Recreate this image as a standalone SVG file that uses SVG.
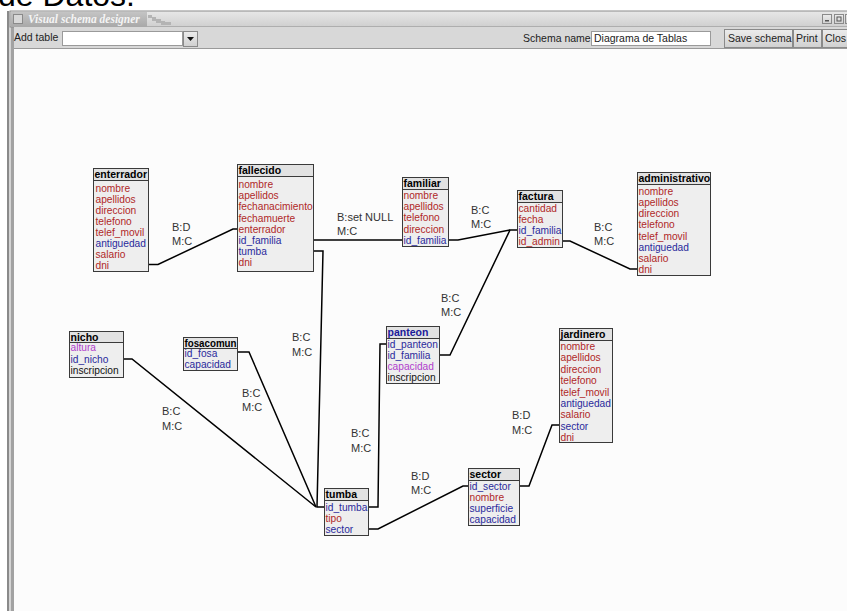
<svg xmlns="http://www.w3.org/2000/svg" width="847" height="611" viewBox="0 0 847 611">
<defs>
<linearGradient id="tbar" x1="0" y1="0" x2="0" y2="1"><stop offset="0" stop-color="#e8e8e8"/><stop offset="1" stop-color="#cfcfcf"/></linearGradient>
<linearGradient id="ttab" x1="0" y1="0" x2="0" y2="1"><stop offset="0" stop-color="#c4c4c4"/><stop offset="1" stop-color="#a8a8a8"/></linearGradient>
<linearGradient id="btn" x1="0" y1="0" x2="0" y2="1"><stop offset="0" stop-color="#ececec"/><stop offset="1" stop-color="#d0d0d0"/></linearGradient>
</defs>
<style>
.ui{font-family:"Liberation Sans",Arial,sans-serif;font-size:10.5px;fill:#222}
.tb rect.body{fill:#eeeeee;stroke:#3a3a3a;stroke-width:1}
.tb rect.hd{fill:#e2e2e2;stroke:#3a3a3a;stroke-width:1}
.tb text{font-family:"Liberation Sans",Arial,sans-serif;font-size:10.2px}
.tb text.h{font-weight:bold;font-size:10.5px;fill:#000}
.r{fill:#b02828}
.b{fill:#2a2a9c}
.p{fill:#b040cc}
.k{fill:#111}
.conn polyline{fill:none;stroke:#000;stroke-width:1.5}
.lbl{font-family:"Liberation Sans",Arial,sans-serif;font-size:11px;fill:#333}
</style>
<rect width="847" height="611" fill="#ffffff"/>
<text x="-2" y="6" font-family="Liberation Sans,Arial,sans-serif" font-size="32" fill="#000">de Datos.</text>
<!-- window frame -->
<g id="window">
<rect x="7" y="11" width="845" height="605" fill="#c8c8c8"/>
<rect x="7" y="11" width="2" height="600" fill="#8a8a8a"/>
<rect x="9" y="11" width="2" height="600" fill="#d4d4d4"/>
<rect x="11" y="11" width="3" height="600" fill="#a2a2a2"/>
<rect x="10" y="11" width="840" height="16" fill="url(#tbar)" stroke="#8c8c8c" stroke-width="1"/>
<rect x="11" y="12" width="136" height="15" fill="url(#ttab)"/>
<rect x="13.5" y="14.5" width="9" height="9" fill="#d8d8d8" stroke="#8a8a8a"/>
<text x="28" y="23" font-family="Liberation Serif,Times New Roman,serif" font-style="italic" font-weight="bold" font-size="11.5" fill="#f4f4f4">Visual schema designer</text>
<g fill="#b4b4b4"><rect x="148" y="15" width="4" height="3"/><rect x="152" y="17" width="4" height="4"/><rect x="156" y="19" width="5" height="4"/><rect x="161" y="21" width="4" height="4"/><rect x="165" y="22" width="6" height="3"/></g>
<rect x="822.5" y="14.5" width="9" height="9" fill="url(#btn)" stroke="#8a8a8a"/>
<rect x="825" y="20" width="4" height="1.5" fill="#555"/>
<rect x="834.5" y="14.5" width="9" height="9" fill="url(#btn)" stroke="#8a8a8a"/>
<rect x="837" y="17" width="4" height="4" fill="none" stroke="#555" stroke-width="1"/>
<rect x="845.5" y="14.5" width="9" height="9" fill="url(#btn)" stroke="#8a8a8a"/>
<rect x="14" y="27" width="840" height="21" fill="#d8d8d8"/>
<line x1="14" y1="48.5" x2="847" y2="48.5" stroke="#9a9a9a"/>
<text class="ui" x="14" y="41">Add table</text>
<rect x="62.5" y="31.5" width="120" height="14" fill="#ffffff" stroke="#9a9a9a"/>
<rect x="183.5" y="31.5" width="14" height="15" fill="url(#btn)" stroke="#8a8a8a"/>
<path d="M187 37 L194 37 L190.5 41 Z" fill="#111"/>
<text class="ui" x="523" y="42">Schema name</text>
<rect x="591.5" y="31.5" width="119" height="14" fill="#ffffff" stroke="#9a9a9a"/>
<text class="ui" x="594" y="42">Diagrama de Tablas</text>
<rect x="724.5" y="29.5" width="68" height="18" fill="url(#btn)" stroke="#8a8a8a"/>
<text class="ui" x="728" y="42">Save schema</text>
<rect x="793.5" y="29.5" width="28" height="18" fill="url(#btn)" stroke="#8a8a8a"/>
<text class="ui" x="796" y="42">Print</text>
<rect x="822.5" y="29.5" width="30" height="18" fill="url(#btn)" stroke="#8a8a8a"/>
<text class="ui" x="825" y="42">Clos</text>
<rect x="14" y="49" width="833" height="562" fill="#fcfcfc"/>
</g>
<!-- connectors -->
<g id="connectors" class="conn">
<polyline points="148,264.5 158,264.5 233,229 237,229"/>
<polyline points="313,240 402,240"/>
<polyline points="313,251 323,251 317,507 324,507"/>
<polyline points="123,359 132,359 316,507"/>
<polyline points="237,352 249,352 316,507"/>
<polyline points="368,507 378,507 380,344 386,344"/>
<polyline points="368,529 378,529 463,486 468,486"/>
<polyline points="519,486 529,486 552,425 559,425"/>
<polyline points="439,355 450,355 510,230 517,230"/>
<polyline points="448,240 458,240 510,230"/>
<polyline points="562,241 570,241 630,269 637,269"/>
</g>
<g id="labels">
<text class="lbl" x="172" y="231">B:D</text><text class="lbl" x="172" y="245">M:C</text>
<text class="lbl" x="337" y="221">B:set NULL</text><text class="lbl" x="337" y="235">M:C</text>
<text class="lbl" x="471" y="214">B:C</text><text class="lbl" x="471" y="228">M:C</text>
<text class="lbl" x="594" y="231">B:C</text><text class="lbl" x="594" y="245">M:C</text>
<text class="lbl" x="292" y="341">B:C</text><text class="lbl" x="292" y="356">M:C</text>
<text class="lbl" x="441" y="302">B:C</text><text class="lbl" x="441" y="316">M:C</text>
<text class="lbl" x="162" y="415">B:C</text><text class="lbl" x="162" y="430">M:C</text>
<text class="lbl" x="242" y="397">B:C</text><text class="lbl" x="242" y="411">M:C</text>
<text class="lbl" x="351" y="437">B:C</text><text class="lbl" x="351" y="452">M:C</text>
<text class="lbl" x="411" y="480">B:D</text><text class="lbl" x="411" y="494">M:C</text>
<text class="lbl" x="512" y="419">B:D</text><text class="lbl" x="512" y="434">M:C</text>
</g>
<!-- tables -->
<g id="enterrador" class="tb" transform="translate(93.5,168.5)">
<rect class="body" width="55" height="103"/><rect class="hd" width="55" height="12"/>
<text class="h" x="1" y="9.5">enterrador</text>
<text class="r" x="2" y="23">nombre</text><text class="r" x="2" y="34">apellidos</text><text class="r" x="2" y="45">direccion</text><text class="r" x="2" y="56">telefono</text><text class="r" x="2" y="67">telef_movil</text><text class="b" x="2" y="78">antiguedad</text><text class="r" x="2" y="89">salario</text><text class="r" x="2" y="100">dni</text>
</g>
<g id="fallecido" class="tb" transform="translate(237.5,164.5)">
<rect class="body" width="76" height="107"/><rect class="hd" width="76" height="12"/>
<text class="h" x="1" y="9.5">fallecido</text>
<text class="r" x="1" y="23.5">nombre</text><text class="r" x="1" y="34.5">apellidos</text><text class="r" x="1" y="45.5">fechanacimiento</text><text class="r" x="1" y="57">fechamuerte</text><text class="r" x="1" y="68">enterrador</text><text class="b" x="1" y="79">id_familia</text><text class="b" x="1" y="90">tumba</text><text class="r" x="1" y="101">dni</text>
</g>
<g id="familiar" class="tb" transform="translate(402.5,177.5)">
<rect class="body" width="46" height="69"/><rect class="hd" width="46" height="12"/>
<text class="h" x="1" y="9.5">familiar</text>
<text class="r" x="1" y="21.5">nombre</text><text class="r" x="1" y="32.7">apellidos</text><text class="r" x="1" y="43.9">telefono</text><text class="r" x="1" y="55.1">direccion</text><text class="b" x="1" y="66.3">id_familia</text>
</g>
<g id="factura" class="tb" transform="translate(517.5,190.5)">
<rect class="body" width="45" height="57"/><rect class="hd" width="45" height="12"/>
<text class="h" x="1" y="9.5">factura</text>
<text class="r" x="1" y="21.5">cantidad</text><text class="r" x="1" y="32.5">fecha</text><text class="b" x="1" y="43.5">id_familia</text><text class="r" x="1" y="54.5">id_admin</text>
</g>
<g id="administrativo" class="tb" transform="translate(637.5,172.5)">
<rect class="body" width="73" height="103"/><rect class="hd" width="73" height="12"/>
<text class="h" x="1" y="9.5">administrativo</text>
<text class="r" x="1" y="22.5">nombre</text><text class="r" x="1" y="33.6">apellidos</text><text class="r" x="1" y="44.8">direccion</text><text class="r" x="1" y="55.9">telefono</text><text class="r" x="1" y="67.1">telef_movil</text><text class="b" x="1" y="78.2">antiguedad</text><text class="r" x="1" y="89.4">salario</text><text class="r" x="1" y="100.5">dni</text>
</g>
<g id="nicho" class="tb" transform="translate(69.5,331.5)">
<rect class="body" width="54" height="46"/><rect class="hd" width="54" height="11"/>
<text class="h" x="1" y="9">nicho</text>
<text class="p" x="1" y="19.5">altura</text><text class="b" x="1" y="31">id_nicho</text><text class="k" x="1" y="42.5">inscripcion</text>
</g>
<g id="fosacomun" class="tb" transform="translate(183.5,337.5)">
<rect class="body" width="54" height="33"/><rect class="hd" width="54" height="11"/>
<text class="h" x="1" y="9" textLength="52" lengthAdjust="spacingAndGlyphs">fosacomun</text>
<text class="b" x="1" y="19.5">id_fosa</text><text class="b" x="1" y="30">capacidad</text>
</g>
<g id="panteon" class="tb" transform="translate(386.5,326.5)">
<rect class="body" width="53" height="57"/><rect class="hd" width="53" height="12"/>
<text class="h" x="1" y="9.5" style="fill:#1a1a9a">panteon</text>
<text class="b" x="1" y="21.5">id_panteon</text><text class="b" x="1" y="32.5">id_familia</text><text class="p" x="1" y="43.5">capacidad</text><text class="k" x="1" y="54.5">inscripcion</text>
</g>
<g id="jardinero" class="tb" transform="translate(559.5,328.5)">
<rect class="body" width="53" height="114"/><rect class="hd" width="53" height="12"/>
<text class="h" x="1" y="9.5">jardinero</text>
<text class="r" x="1" y="21.5">nombre</text><text class="r" x="1" y="32.9">apellidos</text><text class="r" x="1" y="44.3">direccion</text><text class="r" x="1" y="55.7">telefono</text><text class="r" x="1" y="67.1">telef_movil</text><text class="b" x="1" y="78.5">antiguedad</text><text class="r" x="1" y="89.9">salario</text><text class="b" x="1" y="101.3">sector</text><text class="r" x="1" y="112.5">dni</text>
</g>
<g id="tumba" class="tb" transform="translate(324.5,488.5)">
<rect class="body" width="44" height="47"/><rect class="hd" width="44" height="12"/>
<text class="h" x="1" y="9.5">tumba</text>
<text class="b" x="1" y="22.5">id_tumba</text><text class="r" x="1" y="33.5">tipo</text><text class="b" x="1" y="44.5">sector</text>
</g>
<g id="sector" class="tb" transform="translate(468.5,468.5)">
<rect class="body" width="51" height="57"/><rect class="hd" width="51" height="12"/>
<text class="h" x="1" y="9.5">sector</text>
<text class="b" x="1" y="21.5">id_sector</text><text class="r" x="1" y="32.5">nombre</text><text class="b" x="1" y="43.5">superficie</text><text class="b" x="1" y="54.5">capacidad</text>
</g>
</svg>
